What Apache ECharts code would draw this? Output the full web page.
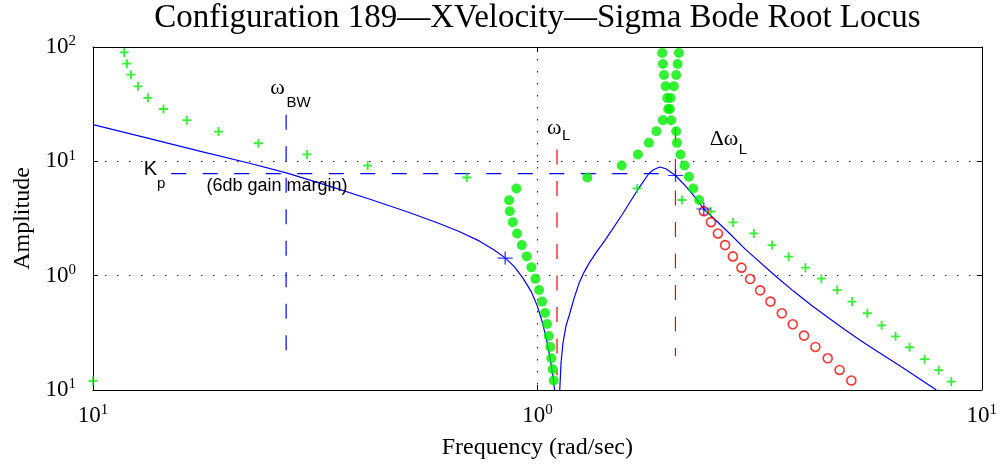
<!DOCTYPE html>
<html><head><meta charset="utf-8">
<script src="https://cdn.jsdelivr.net/npm/echarts@6/dist/echarts.min.js"></script>
<style>html,body{margin:0;padding:0;background:#fff}#c{width:1000px;height:465px}</style>
</head><body><div id="c"></div>
<script>
// ---------------- DATA ----------------
const titleText = 'Configuration 189\u2014XVelocity\u2014Sigma Bode Root Locus';
const xAxisName = 'Frequency (rad/sec)';
const yAxisName = 'Amplitude';
const xTicks = [0.1, 1, 10];
const xTickText = [['10', '1'], ['10', '0'], ['10', '1']];
const yTicks = [0.1, 1, 10, 100];
const yTickText = [['10', '1'], ['10', '0'], ['10', '1'], ['10', '2']];

// Bode magnitude curve (two pieces around the notch)
const bodeLeftF = [0.1, 0.1341, 0.1737, 0.2250, 0.2724, 0.3403, 0.4184, 0.5149, 0.6013, 0.6668, 0.7396, 0.7992, 0.8462, 0.8863, 0.9288, 0.9679, 0.99845, 1.0246, 1.0460, 1.0679, 1.0818, 1.0930, 1.0945];
const bodeLeftA = [20.96, 15.82, 12.30, 9.625, 7.936, 6.073, 4.686, 3.571, 2.862, 2.437, 2.014, 1.680, 1.431, 1.206, 0.9471, 0.7293, 0.5502, 0.399, 0.2891, 0.1914, 0.1388, 0.1006, 0.085];
const bodeRightF = [1.121, 1.1227, 1.1303, 1.1420, 1.1598, 1.1783, 1.2093, 1.2408, 1.2732, 1.3067, 1.3617, 1.4245, 1.5524, 1.6926, 1.7822, 1.8289, 1.8864, 1.9462, 2.046, 2.156, 2.270, 2.369, 2.697, 2.940, 3.434, 3.775, 4.150, 4.525, 4.932, 5.367, 5.861, 6.592, 7.859, 8.0];
const bodeRightA = [0.085, 0.0976, 0.1731, 0.2588, 0.3643, 0.4438, 0.6335, 0.8565, 1.069, 1.280, 1.630, 2.075, 3.43, 5.87, 7.824, 8.478, 8.917, 8.61, 7.52, 6.06, 4.80, 3.83, 2.374, 1.697, 0.992, 0.7293, 0.5448, 0.4254, 0.3342, 0.2673, 0.2138, 0.1595, 0.1016, 0.095];

// Marked points on the Bode curve
const crossF = [0.8462, 2.046, 2.369];
const crossA = [1.425, 7.52, 3.83];

// Green "+" series
const plusF = [0.1, 0.1175, 0.1192, 0.1217, 0.1262, 0.1329, 0.1441, 0.1626, 0.1916, 0.2357, 0.3032, 0.415, 0.694, 1.678, 2.114, 2.453, 2.757, 3.069, 3.373, 3.678, 4.01, 4.355, 4.73, 5.105, 5.527, 5.952, 6.40, 6.88, 7.44, 8.00, 8.54];
const plusA = [0.120, 89.7, 71.5, 57.3, 45.3, 35.9, 28.7, 22.9, 18.2, 14.4, 11.5, 9.19, 7.22, 5.79, 4.59, 3.64, 2.92, 2.34, 1.85, 1.465, 1.175, 0.941, 0.748, 0.593, 0.469, 0.368, 0.295, 0.2366, 0.186, 0.149, 0.1186];

// Red "o" series
const circleF = [2.369, 2.458, 2.548, 2.645, 2.754, 2.879, 3.011, 3.171, 3.346, 3.548, 3.755, 3.981, 4.223, 4.501, 4.787, 5.088];
const circleA = [3.666, 2.939, 2.341, 1.850, 1.474, 1.175, 0.934, 0.744, 0.593, 0.469, 0.3756, 0.299, 0.2378, 0.1895, 0.1498, 0.121];

// Green filled dots (root locus branches)
const dotLowF = [0.897, 0.8637, 0.8670, 0.8806, 0.9003, 0.9225, 0.9467, 0.9694, 0.9897, 1.0088, 1.0247, 1.0407, 1.0515, 1.0607, 1.0695, 1.0752, 1.0829, 1.0886];
const dotLowA = [5.787, 4.574, 3.666, 2.939, 2.341, 1.850, 1.474, 1.182, 0.941, 0.748, 0.593, 0.4713, 0.3779, 0.2969, 0.2378, 0.1895, 0.152, 0.121];
const dotUpLF = [1.2956, 1.548, 1.684, 1.782, 1.853, 1.916, 1.970, 1.960, 1.944, 1.927, 1.916, 1.909];
const dotUpLA = [7.22, 9.19, 11.47, 14.51, 18.32, 22.86, 28.74, 35.86, 45.3, 56.9, 71.0, 88.6];
const dotUpRF = [2.082, 2.068, 2.053, 2.028, 1.994, 1.987, 2.001, 2.053, 2.061, 2.099, 2.144, 2.193, 2.242, 2.312];
const dotUpRA = [88.6, 71.0, 56.9, 45.3, 35.86, 28.74, 22.86, 18.32, 14.51, 11.47, 9.19, 7.32, 5.787, 4.59];

// Reference (dashed) lines
const kpF = [0.150, 2.046];   const kpA = [7.82, 7.82];
const wbwF = [0.272, 0.272];  const wbwA = [25.6, 0.2014];
const wlF = [1.107, 1.107];   const wlA = [12.68, 0.1346];
const dwlF = [2.045, 2.045];  const dwlA = [19.73, 0.1973];

// Annotations: text and anchor (left/middle) in data coordinates
const annText = ['\u03c9', 'BW', 'K', 'p', '(6db gain margin)', '\u03c9', 'L', '\u0394\u03c9', 'L'];
const annF = [0.2507, 0.2724, 0.130, 0.1394, 0.180, 1.0515, 1.1363, 2.442, 2.839];
const annA = [43.2, 32.6, 8.48, 6.40, 6.085, 19.34, 16.8, 15.5, 12.68];
const annKind = ['greek', 'sub', 'big', 'sub', 'note', 'greek', 'sub', 'greek', 'sub'];

// ---------------- CHART ----------------
const zip = (a, b) => a.map((v, i) => [v, b[i]]);
const chart = echarts.init(document.getElementById('c'), null, {renderer: 'canvas'});
const serif = 'Liberation Serif';
const sans = 'Liberation Sans';

function tickFmt(ticks, texts) {
  return function (v) {
    const e = Math.round(Math.log10(v));
    const i = ticks.findIndex(t => Math.round(Math.log10(t)) === e);
    if (i < 0) return '';
    return '{b|' + texts[i][0] + '}{s|' + texts[i][1] + '}';
  };
}
const richTick = {
  b: {fontFamily: serif, fontSize: 23, color: '#000', lineHeight: 26},
  s: {fontFamily: serif, fontSize: 15, color: '#000', lineHeight: 12, verticalAlign: 'top'}
};
const gridLine = {show: true, lineStyle: {color: '#222', width: 1, type: [1.5, 10.5]}};
const blackLine = {show: true, lineStyle: {color: '#000', width: 1}};
const innerTick = {show: true, inside: true, length: 5, lineStyle: {color: '#000', width: 1}};

const bluePlus = 'path://M0,6.4H14V7.6H0Z M6.4,0H7.6V14H6.4Z';
const greenPlus = 'path://M0,4H10V6H0Z M4,0H6V10H4Z';
const dashPat = [15, 16.5];

function dashed(name, f, a, color) {
  return {name, type: 'line', data: zip(f, a), showSymbol: false, symbol: 'none', silent: true,
    lineStyle: {color, width: 1.2, type: dashPat}, z: 4};
}

chart.setOption({
  animation: false,
  backgroundColor: '#fff',
  grid: {left: 93, top: 47, width: 890, height: 343, show: false},
  xAxis: [
    {type: 'log', logBase: 10, min: 0.1, max: 10, position: 'bottom',
      axisLine: blackLine, axisTick: innerTick, splitLine: gridLine,
      axisLabel: {formatter: tickFmt(xTicks, xTickText), rich: richTick, margin: 13},
      name: xAxisName, nameLocation: 'middle', nameGap: 46,
      nameTextStyle: {fontFamily: serif, fontSize: 24, color: '#000'}},
    {type: 'log', logBase: 10, min: 0.1, max: 10, position: 'top',
      axisLine: blackLine, axisTick: innerTick, splitLine: {show: false}, axisLabel: {show: false}}
  ],
  yAxis: [
    {type: 'log', logBase: 10, min: 0.1, max: 100, position: 'left',
      axisLine: blackLine, axisTick: innerTick, splitLine: gridLine,
      axisLabel: {formatter: tickFmt(yTicks, yTickText), rich: richTick, margin: 17},
      name: yAxisName, nameLocation: 'middle', nameGap: 57,
      nameTextStyle: {fontFamily: serif, fontSize: 24, color: '#000'}},
    {type: 'log', logBase: 10, min: 0.1, max: 100, position: 'right',
      axisLine: blackLine, axisTick: innerTick, splitLine: {show: false}, axisLabel: {show: false}}
  ],
  series: [
    dashed('kp', kpF, kpA, '#0000ff'),
    dashed('wbw', wbwF, wbwA, '#0000ff'),
    dashed('wl', wlF, wlA, '#ff0000'),
    dashed('dwl', dwlF, dwlA, '#ff0000'),
    {name: 'bodeL', type: 'line', data: zip(bodeLeftF, bodeLeftA), showSymbol: false, symbol: 'none',
      smooth: false, lineStyle: {color: '#0000ff', width: 1.2}, z: 5},
    {name: 'bodeR', type: 'line', data: zip(bodeRightF, bodeRightA), showSymbol: false, symbol: 'none',
      smooth: false, lineStyle: {color: '#0000ff', width: 1.2}, z: 5},
    {name: 'dots', type: 'scatter', data: zip(dotLowF, dotLowA).concat(zip(dotUpLF, dotUpLA), zip(dotUpRF, dotUpRA)),
      symbol: 'circle', symbolSize: 10, itemStyle: {color: '#00ee00'}, z: 6},
    {name: 'plus', type: 'scatter', data: zip(plusF, plusA), symbol: greenPlus, symbolSize: 9,
      itemStyle: {color: '#00ee00'}, z: 7},
    {name: 'circles', type: 'scatter', data: zip(circleF, circleA), symbol: 'circle', symbolSize: 9,
      itemStyle: {color: 'rgba(0,0,0,0)', borderColor: '#ff0000', borderWidth: 1.6}, z: 7},
    {name: 'cross', type: 'scatter', data: zip(crossF, crossA), symbol: bluePlus, symbolSize: [15, 13],
      itemStyle: {color: '#0000ff'}, z: 8}
  ]
});

// annotations and title positioned from data coordinates
const kindStyle = {
  greek: {fontFamily: serif, fontSize: 22},
  sub: {fontFamily: sans, fontSize: 15},
  big: {fontFamily: sans, fontSize: 20},
  note: {fontFamily: sans, fontSize: 18}
};
const gfx = annText.map((t, i) => {
  const p = chart.convertToPixel({gridIndex: 0}, [annF[i], annA[i]]);
  const st = kindStyle[annKind[i]];
  return {type: 'text', x: p[0], y: p[1], z: 20,
    style: {text: t, fontFamily: st.fontFamily, fontSize: st.fontSize, fill: '#000',
      textAlign: 'left', textVerticalAlign: 'middle'}};
});
const c0 = chart.convertToPixel({gridIndex: 0}, [1, 100]);
gfx.push({type: 'text', x: c0[0], y: 18, z: 20,
  style: {text: titleText, fontFamily: serif, fontSize: 33, fill: '#000', textAlign: 'center', textVerticalAlign: 'middle'}});
chart.setOption({graphic: gfx});
</script></body></html>
